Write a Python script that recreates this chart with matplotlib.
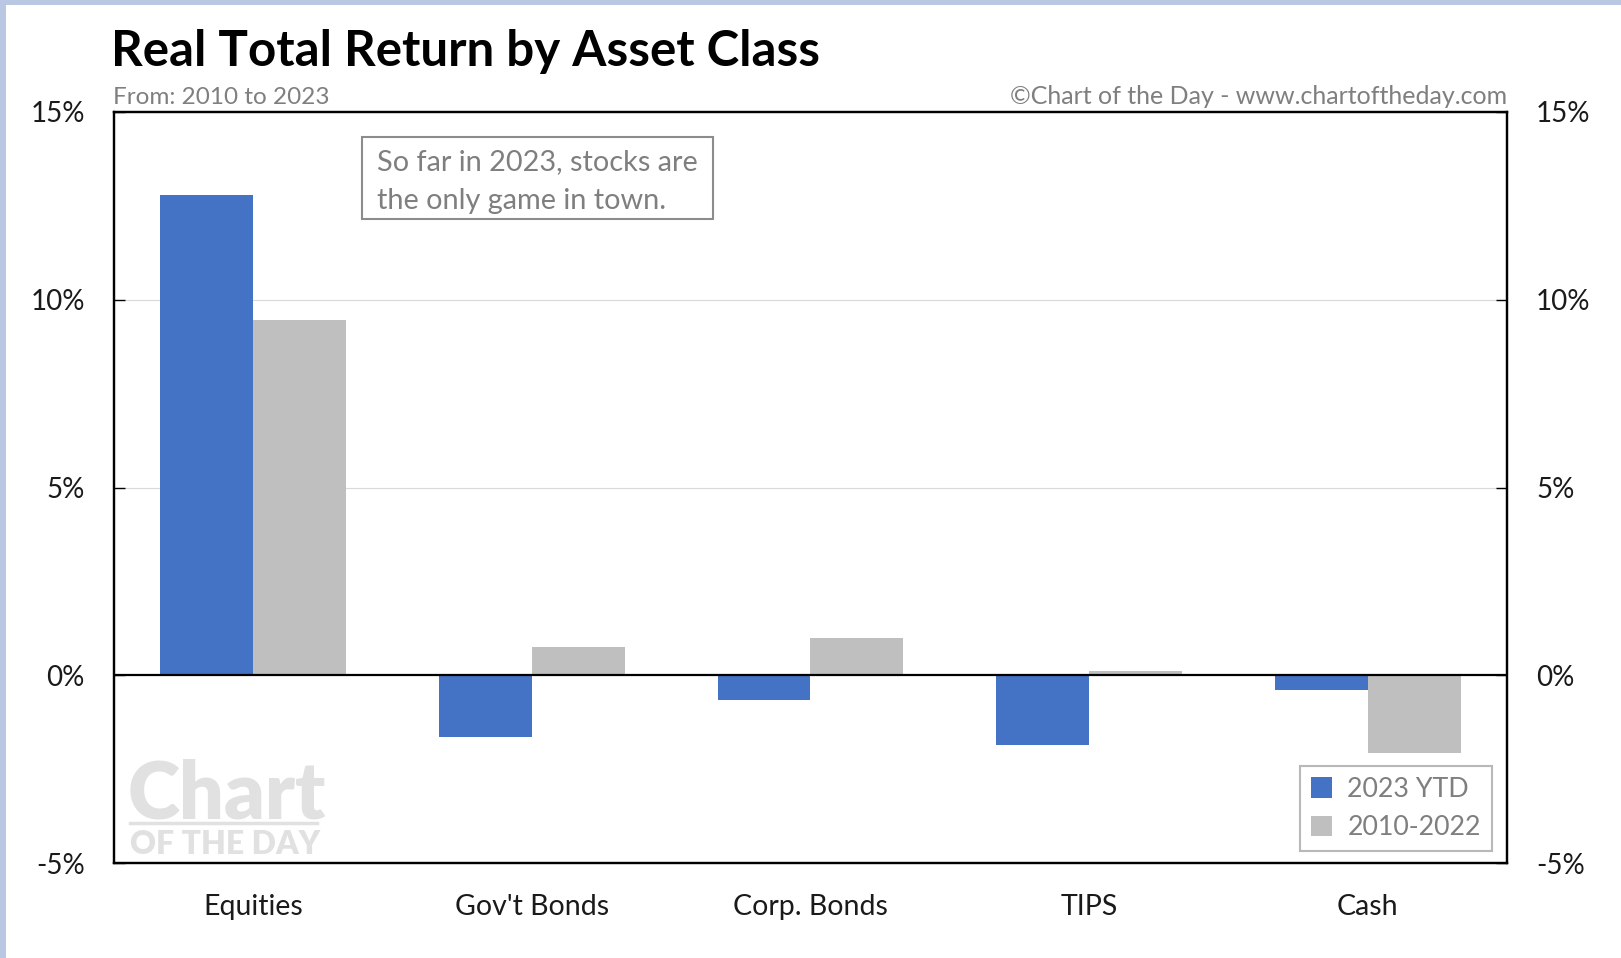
import matplotlib
matplotlib.use("Agg")
import matplotlib.pyplot as plt
import numpy as np
from matplotlib.patches import Rectangle, Patch

plt.rcParams['font.family'] = ['Lato', 'DejaVu Sans']

categories = ["Equities", "Gov't Bonds", "Corp. Bonds", "TIPS", "Cash"]
ytd_2023 = [12.8, -1.65, -0.65, -1.87, -0.4]
avg_2010_2022 = [9.45, 0.75, 1.0, 0.1, -2.07]
series_labels = ["2023 YTD", "2010-2022"]
yticks = [-5, 0, 5, 10, 15]
ytick_labels = ["-5%", "0%", "5%", "10%", "15%"]

BLUE = "#4472C4"
GRAY = "#BFBFBF"
TXT_GRAY = "#7F7F7F"
WM = "#E1E1E1"

W, H = 1621, 958
fig = plt.figure(figsize=(W / 100, H / 100), dpi=100, facecolor="white")

def fx(px):
    return px / W

def fy(py):
    return 1 - py / H

# slide background strips
fig.patches.append(Rectangle((0, fy(5)), 1, 5 / H, transform=fig.transFigure,
                             facecolor="#B9C7E2", edgecolor="none", zorder=0))
fig.patches.append(Rectangle((0, 0), 6 / W, 1, transform=fig.transFigure,
                             facecolor="#B9C7E2", edgecolor="none", zorder=0))

left, right, top, bottom = 114, 1507, 112, 863
ax = fig.add_axes([fx(left), fy(bottom), fx(right - left), (bottom - top) / H])

x = np.arange(len(categories))
bw = 1 / 3
ax.bar(x - bw / 2, ytd_2023, width=bw, color=BLUE, label=series_labels[0], zorder=3)
ax.bar(x + bw / 2, avg_2010_2022, width=bw, color=GRAY, label=series_labels[1], zorder=3)

ax.set_xlim(-0.5, len(categories) - 0.5)
ax.set_ylim(-5, 15)
ax.set_yticks(yticks)
ax.set_yticklabels(ytick_labels)
ax.set_xticks(x)
ax.set_xticklabels(categories)
ax.tick_params(axis="x", length=0, pad=22, labelsize=20.5, labelcolor="#1a1a1a")
ax.tick_params(axis="y", direction="in", length=8, width=1, pad=21, labelsize=20,
               labelcolor="#1a1a1a")
for v in [5, 10]:
    ax.axhline(v, color="#D9D9D9", lw=0.8, zorder=1)
ax.axhline(0, color="black", lw=1.6, zorder=4)
for s in ax.spines.values():
    s.set_linewidth(1.6)
    s.set_color("black")

ax2 = ax.twinx()
ax2.set_ylim(ax.get_ylim())
ax2.set_yticks(yticks)
ax2.set_yticklabels(ytick_labels)
ax2.tick_params(axis="y", direction="in", length=8, width=1, pad=21, labelsize=20,
                labelcolor="#1a1a1a")
for s in ax2.spines.values():
    s.set_linewidth(1.6)

# Legend
handles = [Patch(facecolor=BLUE, edgecolor="none"), Patch(facecolor=GRAY, edgecolor="none")]
leg = ax.legend(handles, series_labels, loc="lower right", bbox_to_anchor=(0.989, 0.016),
                fontsize=19.3, frameon=True, fancybox=False, handlelength=0.78,
                handleheight=0.78, handletextpad=0.58, borderpad=0.4, labelspacing=0.5,
                borderaxespad=0)
leg.get_frame().set_edgecolor("#A6A6A6")
leg.get_frame().set_linewidth(1.5)
for t in leg.get_texts():
    t.set_color(TXT_GRAY)

# Annotation box
ax.add_patch(Rectangle((0.178, 0.8575), 0.430 - 0.178, 0.9667 - 0.8575, transform=ax.transAxes,
                       facecolor="white", edgecolor="#8C8C8C", lw=1.5, zorder=5))
ax.text(0.1888, 0.907, "So far in 2023, stocks are\nthe only game in town.",
        transform=ax.transAxes, fontsize=20.8, color=TXT_GRAY, ha="left", va="center",
        linespacing=1.62, zorder=6)

# Watermark
ax.text(0.0095, 0.059, "Chart", transform=ax.transAxes, fontsize=57, fontweight="heavy",
        color=WM, ha="left", va="baseline", zorder=2)
ax.plot([0.0115, 0.146], [0.053, 0.053], transform=ax.transAxes, color=WM, lw=2.5, zorder=2)
ax.text(0.0115, 0.012, "OF THE DAY", transform=ax.transAxes, fontsize=23, fontweight="heavy",
        color=WM, ha="left", va="baseline", zorder=2)

# Titles
fig.text(fx(111), fy(52), "Real Total Return by Asset Class", fontsize=35.5, fontweight="bold",
         color="black", ha="left", va="center")
fig.text(fx(113), fy(97), "From: 2010 to 2023", fontsize=17.5, color=TXT_GRAY,
         ha="left", va="center")
fig.text(fx(1507), fy(97), "\u00a9Chart of the Day - www.chartoftheday.com", fontsize=18,
         color=TXT_GRAY, ha="right", va="center")

fig.savefig("out.png", dpi=100, facecolor=fig.get_facecolor())
